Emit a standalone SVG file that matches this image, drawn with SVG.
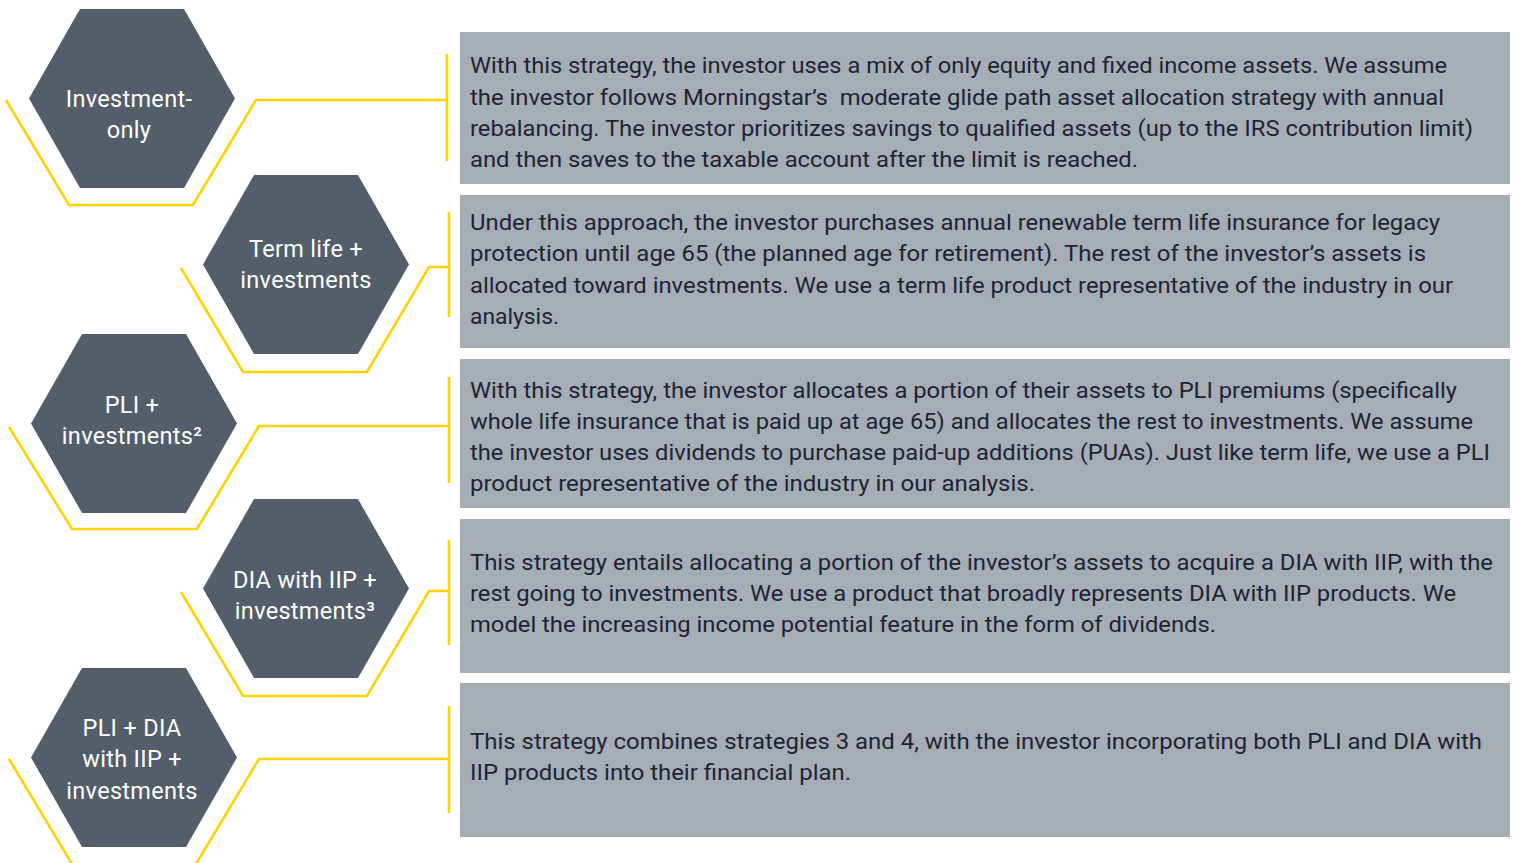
<svg xmlns="http://www.w3.org/2000/svg" width="1518" height="863" viewBox="0 0 1518 863">
<style>
.hex{fill:#535e6b}
.box{fill:#a7adb4}
.yl{fill:none;stroke:#ffd200;stroke-width:2.6}
.lab{font-family:Roboto,"Liberation Sans",sans-serif;font-size:23.5px;letter-spacing:0.3px;fill:#ffffff;text-anchor:middle}
.txt{font-family:Roboto,"Liberation Sans",sans-serif;font-size:21.5px;fill:#1b2436}
</style>
<rect width="1518" height="863" fill="#ffffff"/>
<g id="connectors">
<path class="yl" d="M6,100 L69,205 L193,205 L256,100 L447,100 M447,54 L447,161"/>
<path class="yl" d="M181,268 L243,372 L367,372 L429,267 L449,267 M449,212 L449,317"/>
<path class="yl" d="M9,427 L72,529 L197,529 L259,426 L449,426 M449,377 L449,483"/>
<path class="yl" d="M181,592 L243,696 L367,696 L429,591 L449,591 M449,540 L449,645"/>
<path class="yl" d="M9,759 L75,869 M193,869 L259,759 L449,759 M449,706 L449,813"/>
</g>
<g id="node1">
<polygon class="hex" points="29,98.5 80,9 184,9 235,98.5 184,188 80,188"/>
<text class="lab" x="129" y="107">Investment-</text>
<text class="lab" x="129" y="138">only</text>
</g>
<g id="node2">
<polygon class="hex" points="203,264.5 254,175 358,175 409,264.5 358,354 254,354"/>
<text class="lab" x="306" y="257">Term life +</text>
<text class="lab" x="306" y="288">investments</text>
</g>
<g id="node3">
<polygon class="hex" points="31,423.5 82,334 186,334 237,423.5 186,513 82,513"/>
<text class="lab" x="132" y="413">PLI +</text>
<text class="lab" x="132" y="444">investments²</text>
</g>
<g id="node4">
<polygon class="hex" points="203,588.5 254,499 358,499 409,588.5 358,678 254,678"/>
<text class="lab" x="305" y="588">DIA with IIP +</text>
<text class="lab" x="305" y="619">investments³</text>
</g>
<g id="node5">
<polygon class="hex" points="31,757.5 82,668 186,668 237,757.5 186,847 82,847"/>
<text class="lab" x="132" y="736">PLI + DIA</text>
<text class="lab" x="132" y="767">with IIP +</text>
<text class="lab" x="132" y="799">investments</text>
</g>
<g id="box1">
<rect class="box" x="460" y="32" width="1050" height="152"/>
<text class="txt" x="470" y="73" textLength="977" lengthAdjust="spacingAndGlyphs">With this strategy, the investor uses a mix of only equity and fixed income assets. We assume</text>
<text class="txt" x="470" y="104.5" textLength="974" lengthAdjust="spacingAndGlyphs" style="white-space:pre">the investor follows Morningstar’s  moderate glide path asset allocation strategy with annual</text>
<text class="txt" x="470" y="135.5" textLength="1003" lengthAdjust="spacingAndGlyphs">rebalancing. The investor prioritizes savings to qualified assets (up to the IRS contribution limit)</text>
<text class="txt" x="470" y="167" textLength="668" lengthAdjust="spacingAndGlyphs">and then saves to the taxable account after the limit is reached.</text>
</g>
<g id="box2">
<rect class="box" x="460" y="195" width="1050" height="153"/>
<text class="txt" x="470" y="230" textLength="970" lengthAdjust="spacingAndGlyphs">Under this approach, the investor purchases annual renewable term life insurance for legacy</text>
<text class="txt" x="470" y="261" textLength="956" lengthAdjust="spacingAndGlyphs">protection until age 65 (the planned age for retirement). The rest of the investor’s assets is</text>
<text class="txt" x="470" y="292.5" textLength="983" lengthAdjust="spacingAndGlyphs">allocated toward investments. We use a term life product representative of the industry in our</text>
<text class="txt" x="470" y="324" textLength="89" lengthAdjust="spacingAndGlyphs">analysis.</text>
</g>
<g id="box3">
<rect class="box" x="460" y="359" width="1050" height="149"/>
<text class="txt" x="470" y="398" textLength="987" lengthAdjust="spacingAndGlyphs">With this strategy, the investor allocates a portion of their assets to PLI premiums (specifically</text>
<text class="txt" x="470" y="429" textLength="1003" lengthAdjust="spacingAndGlyphs">whole life insurance that is paid up at age 65) and allocates the rest to investments. We assume</text>
<text class="txt" x="470" y="460" textLength="1020" lengthAdjust="spacingAndGlyphs">the investor uses dividends to purchase paid-up additions (PUAs). Just like term life, we use a PLI</text>
<text class="txt" x="470" y="491" textLength="565" lengthAdjust="spacingAndGlyphs">product representative of the industry in our analysis.</text>
</g>
<g id="box4">
<rect class="box" x="460" y="519" width="1050" height="154"/>
<text class="txt" x="470" y="570" textLength="1023" lengthAdjust="spacingAndGlyphs">This strategy entails allocating a portion of the investor’s assets to acquire a DIA with IIP, with the</text>
<text class="txt" x="470" y="601" textLength="986" lengthAdjust="spacingAndGlyphs">rest going to investments. We use a product that broadly represents DIA with IIP products. We</text>
<text class="txt" x="470" y="632" textLength="746" lengthAdjust="spacingAndGlyphs">model the increasing income potential feature in the form of dividends.</text>
</g>
<g id="box5">
<rect class="box" x="460" y="683" width="1050" height="154"/>
<text class="txt" x="470" y="749" textLength="1012" lengthAdjust="spacingAndGlyphs">This strategy combines strategies 3 and 4, with the investor incorporating both PLI and DIA with</text>
<text class="txt" x="470" y="780" textLength="381" lengthAdjust="spacingAndGlyphs">IIP products into their financial plan.</text>
</g>
</svg>
